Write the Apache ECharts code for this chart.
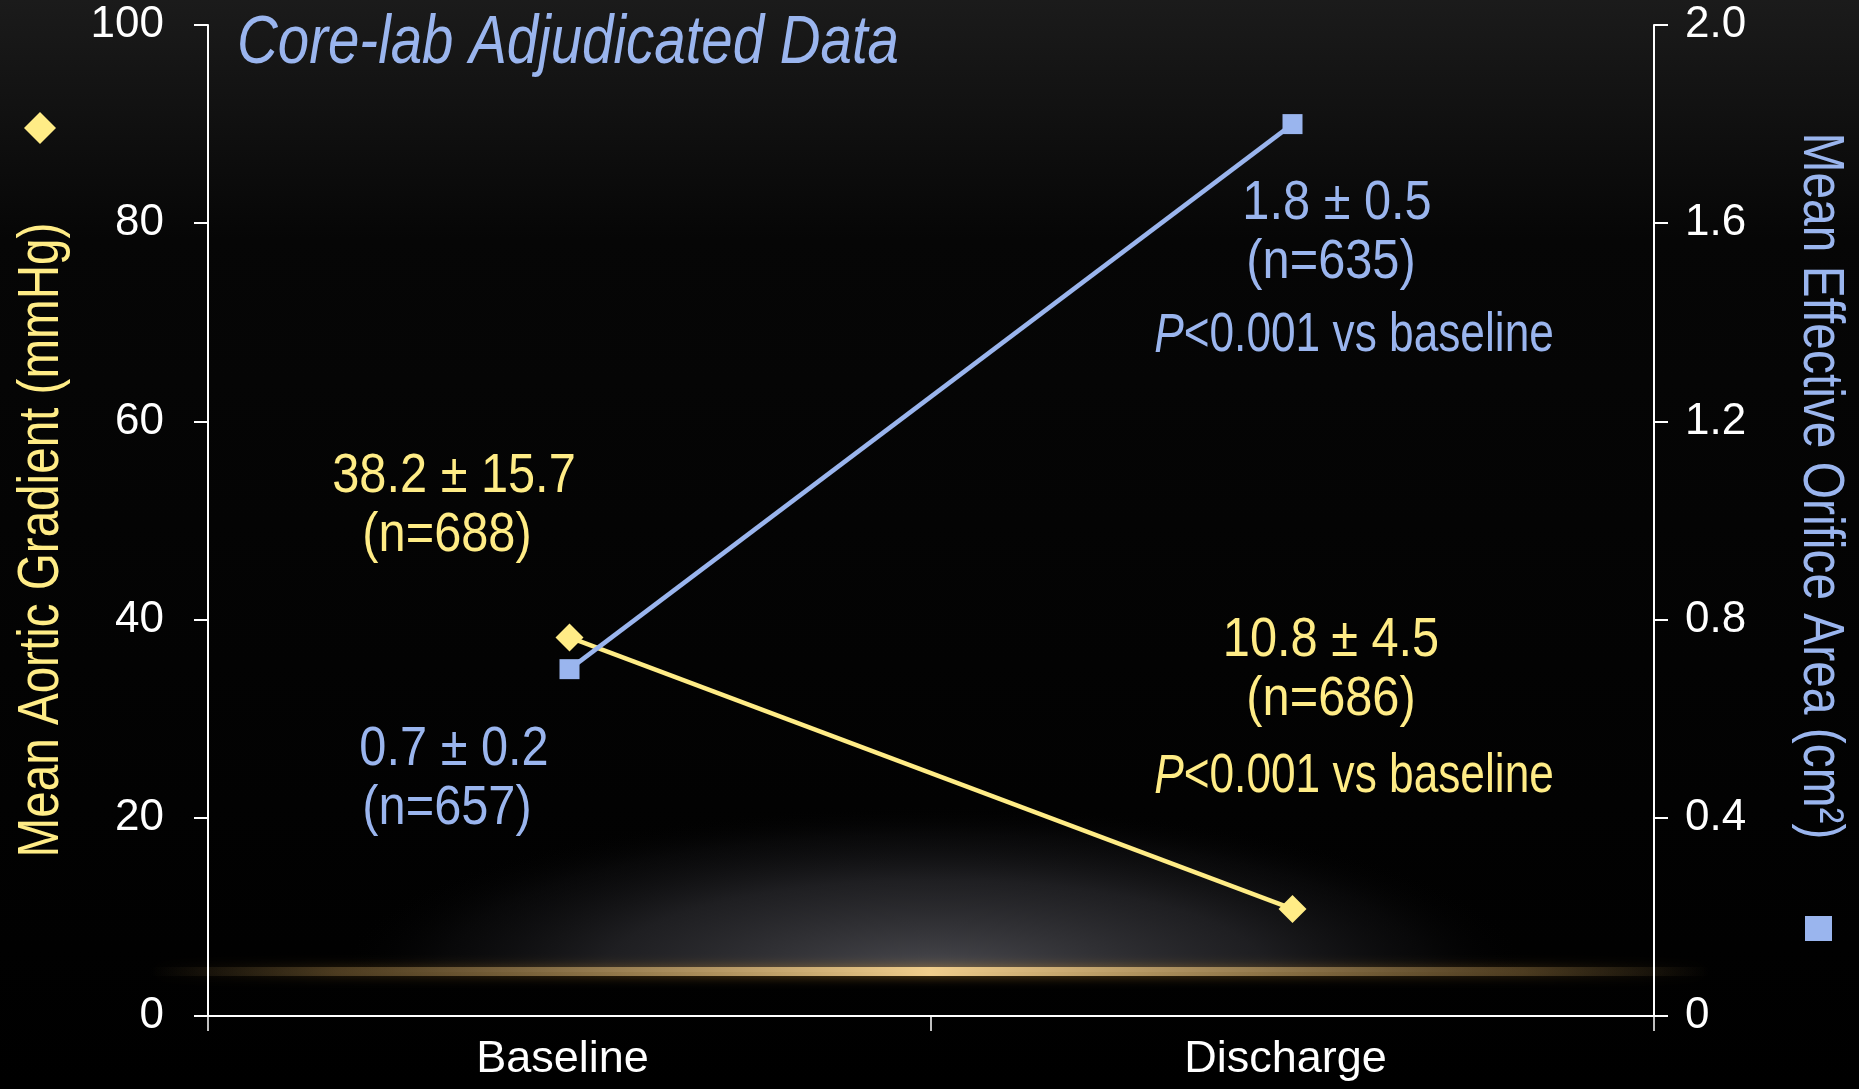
<!DOCTYPE html>
<html>
<head>
<meta charset="utf-8">
<script src="https://cdn.jsdelivr.net/npm/echarts@6/dist/echarts.min.js"></script>
<style>
html,body{margin:0;padding:0;background:#000;}
#chart{width:1859px;height:1089px;}
</style>
</head>
<body>
<div id="chart"></div>
<script>
// ---- data ----
const categories = ['Baseline', 'Discharge'];
const gradientValues = [38.2, 10.8];   // Mean Aortic Gradient (mmHg)
const eoaValues = [0.7, 1.8];          // Mean Effective Orifice Area (cm2)
const gradientTickMax = 100;
const gradientTickStep = 20;
const eoaTickMax = 2.0;
const eoaTickStep = 0.4;
const titleText = 'Core-lab Adjudicated Data';
const leftAxisName = 'Mean Aortic Gradient (mmHg)';
const rightAxisName = 'Mean Effective Orifice Area (cm\u00B2)';
const gradientLabels = [['38.2 \u00B1 15.7', '(n=688)'], ['10.8 \u00B1 4.5', '(n=686)']];
const eoaLabels = [['0.7 \u00B1 0.2', '(n=657)'], ['1.8 \u00B1 0.5', '(n=635)']];
const pText = '<0.001 vs baseline';

const YEL = '#FFEC86';
const BLU = '#9AB5EE';
const FONT = "'Liberation Sans',Arial,sans-serif";

const chart = echarts.init(document.getElementById('chart'), null, {renderer: 'canvas'});

function txt(x, y, text, color, sx, extra, styleExtra) {
  const base = {
    type: 'text', x: x, y: y, z: 50, scaleX: sx,
    style: Object.assign({
      text: text, fill: color, fontSize: 56, fontFamily: FONT,
      align: 'center', verticalAlign: 'middle',
      rich: {i: {fontStyle: 'italic', fontSize: 56, fontFamily: FONT, fill: color}}
    }, styleExtra || {})
  };
  return Object.assign(base, extra || {});
}
const NUM = 0.87, PL = 0.79;

const option = {
  backgroundColor: {
    type: 'linear', x: 0, y: 0, x2: 0, y2: 1,
    colorStops: [
      {offset: 0, color: '#1b1b1b'},
      {offset: 0.22, color: '#060606'},
      {offset: 1, color: '#000000'}
    ]
  },
  animation: false,
  grid: {left: 208, right: 205, top: 25, bottom: 73, containLabel: false},
  legend: [
    {data: [{name: leftAxisName, icon: 'diamond'}], left: 24, top: 112, padding: 0, itemWidth: 32, itemHeight: 32,
     formatter: function () { return ''; }, selectedMode: false, textStyle: {fontSize: 1}},
    {data: [{name: rightAxisName, icon: 'rect'}], left: 1805, top: 916, padding: 0, itemWidth: 27, itemHeight: 25,
     formatter: function () { return ''; }, selectedMode: false, textStyle: {fontSize: 1}}
  ],
  xAxis: {
    type: 'category', data: categories, boundaryGap: true,
    axisLine: {lineStyle: {color: '#ffffff', width: 2}},
    axisTick: {show: true, length: 15, lineStyle: {color: '#ffffff', width: 1.5}},
    axisLabel: {color: '#ffffff', fontSize: 45, fontFamily: FONT, margin: 21, padding: [0, 14, 0, 0]}
  },
  yAxis: [
    {
      type: 'value', min: 0, max: gradientTickMax, interval: gradientTickStep, position: 'left',
      axisLine: {show: true, lineStyle: {color: '#ffffff', width: 2}},
      axisTick: {show: true, length: 14, lineStyle: {color: '#ffffff', width: 2}},
      axisLabel: {color: '#ffffff', fontSize: 44, fontFamily: FONT, margin: 44},
      splitLine: {show: false}
    },
    {
      type: 'value', min: 0, max: eoaTickMax, interval: eoaTickStep, position: 'right',
      axisLine: {show: true, lineStyle: {color: '#ffffff', width: 2}},
      axisTick: {show: true, length: 14, lineStyle: {color: '#ffffff', width: 2}},
      axisLabel: {color: '#ffffff', fontSize: 44, fontFamily: FONT, margin: 31,
        formatter: function (v) { return v === 0 ? '0' : v.toFixed(1); }},
      splitLine: {show: false}
    }
  ],
  series: [
    {
      name: leftAxisName, type: 'line', yAxisIndex: 0, data: gradientValues,
      symbol: 'diamond', symbolSize: 28, z: 5,
      lineStyle: {color: YEL, width: 4.5}, itemStyle: {color: YEL}
    },
    {
      name: rightAxisName, type: 'line', yAxisIndex: 1, data: eoaValues,
      symbol: 'rect', symbolSize: 20, z: 6,
      lineStyle: {color: BLU, width: 4.5}, itemStyle: {color: BLU}
    }
  ],
  graphic: [
    {
      type: 'sector', x: 935, y: 972, scaleY: 0.28, z: -5, silent: true,
      shape: {cx: 0, cy: 0, r: 600, r0: 0, startAngle: Math.PI, endAngle: Math.PI * 2},
      style: {
        fill: {
          type: 'radial', x: 0.5, y: 1, r: 1,
          colorStops: [
            {offset: 0, color: 'rgba(82,82,88,0.9)'},
            {offset: 0.55, color: 'rgba(50,50,55,0.6)'},
            {offset: 0.82, color: 'rgba(25,25,28,0.3)'},
            {offset: 1, color: 'rgba(0,0,0,0)'}
          ]
        }
      }
    },
    {
      type: 'rect', z: -4, silent: true,
      shape: {x: 150, y: 967, width: 1560, height: 9, r: 4.5},
      style: {
        fill: {
          type: 'linear', x: 0, y: 0, x2: 1, y2: 0,
          colorStops: [
            {offset: 0, color: 'rgba(120,100,60,0)'},
            {offset: 0.12, color: 'rgba(150,120,70,0.4)'},
            {offset: 0.5, color: 'rgba(240,205,140,1)'},
            {offset: 0.88, color: 'rgba(150,120,70,0.4)'},
            {offset: 1, color: 'rgba(120,100,60,0)'}
          ]
        },
        shadowBlur: 12, shadowColor: 'rgba(200,140,50,0.6)'
      }
    },
    // title
    txt(237, 44, titleText, BLU, 0.83, {}, {fontSize: 68, fontStyle: 'italic', align: 'left'}),
    // axis names
    txt(42, 540, leftAxisName, YEL, 0.835, {rotation: Math.PI / 2}, {fontSize: 57}),
    txt(1820, 486, rightAxisName, BLU, 0.84, {rotation: -Math.PI / 2}, {fontSize: 57}),
    // annotations
    txt(454, 477, gradientLabels[0][0], YEL, NUM),
    txt(447, 536, gradientLabels[0][1], YEL, NUM),
    txt(454, 750, eoaLabels[0][0], BLU, NUM),
    txt(447, 809, eoaLabels[0][1], BLU, NUM),
    txt(1337, 204, eoaLabels[1][0], BLU, NUM),
    txt(1331, 263, eoaLabels[1][1], BLU, NUM),
    txt(1354, 336, '{i|P}' + pText, BLU, PL),
    txt(1331, 641, gradientLabels[1][0], YEL, NUM),
    txt(1331, 700, gradientLabels[1][1], YEL, NUM),
    txt(1354, 777, '{i|P}' + pText, YEL, PL)
  ]
};
chart.setOption(option);
</script>
</body>
</html>
